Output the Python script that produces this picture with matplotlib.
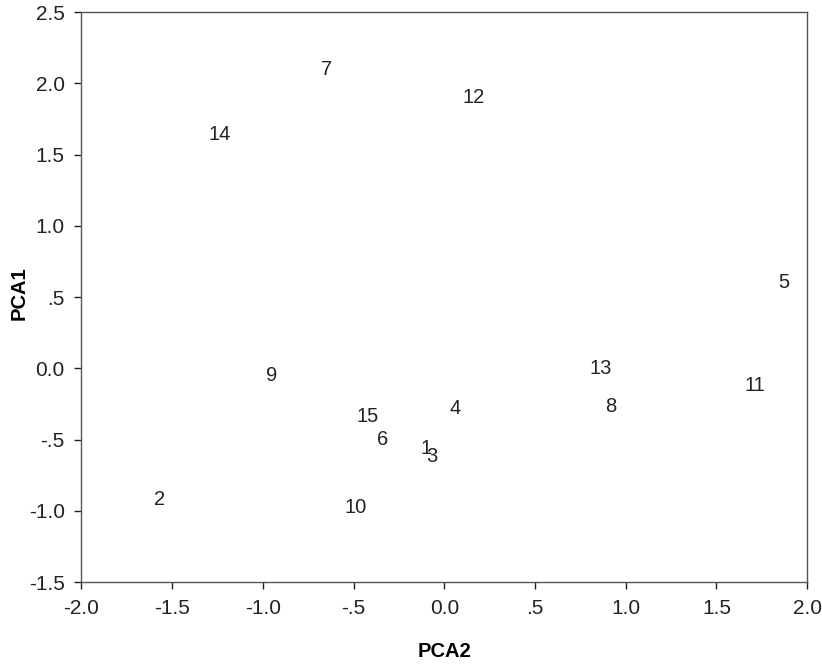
import matplotlib
matplotlib.use("Agg")
import matplotlib.pyplot as plt
from matplotlib.ticker import FixedLocator, FuncFormatter

plt.rcParams['font.family'] = ['Liberation Sans', 'DejaVu Sans']

# case labels with their PCA scores
labels = ['1', '2', '3', '4', '5', '6', '7', '8', '9', '10', '11', '12', '13', '14', '15']
pca2 = [-0.10, -1.57, -0.07, 0.06, 1.87, -0.34, -0.65, 0.92, -0.95, -0.49, 1.71, 0.16, 0.86, -1.24, -0.42]
pca1 = [-0.56, -0.92, -0.62, -0.28, 0.60, -0.50, 2.10, -0.27, -0.05, -0.98, -0.12, 1.90, 0.00, 1.64, -0.34]

xticks = [-2.0, -1.5, -1.0, -0.5, 0.0, 0.5, 1.0, 1.5, 2.0]
yticks = [-1.5, -1.0, -0.5, 0.0, 0.5, 1.0, 1.5, 2.0, 2.5]


def spss_fmt(v, pos=None):
    # SPSS style: drop the leading zero on +/-.5
    s = f"{v:.1f}"
    if s.startswith("0.") and s != "0.0":
        s = s[1:]
    elif s.startswith("-0.") and s != "-0.0":
        s = "-" + s[2:]
    if s == "-0.0":
        s = "0.0"
    return s


fig = plt.figure(figsize=(8.22, 6.69), dpi=100)
ax = fig.add_axes([0.099, 0.13, 0.883, 0.852])

for lab, x, y in zip(labels, pca2, pca1):
    ax.text(x, y, lab, ha='center', va='center', fontsize=14.5, color='#222222')

ax.set_xlim(-2.0, 2.0)
ax.set_ylim(-1.5, 2.5)
ax.xaxis.set_major_locator(FixedLocator(xticks))
ax.yaxis.set_major_locator(FixedLocator(yticks))
ax.xaxis.set_major_formatter(FuncFormatter(spss_fmt))
ax.yaxis.set_major_formatter(FuncFormatter(spss_fmt))
ax.tick_params(direction='out', length=5, width=1, labelsize=15, colors='#222222', pad=7)

for sp in ax.spines.values():
    sp.set_color('#555555')
    sp.set_linewidth(1)

ax.set_xlabel('PCA2', fontsize=14.5, fontweight='bold')
ax.set_ylabel('PCA1', fontsize=14.5, fontweight='bold')
ax.xaxis.set_label_coords(0.5, -0.106)
ax.yaxis.set_label_coords(-0.073, 0.507)

fig.savefig('out.png', dpi=100)
